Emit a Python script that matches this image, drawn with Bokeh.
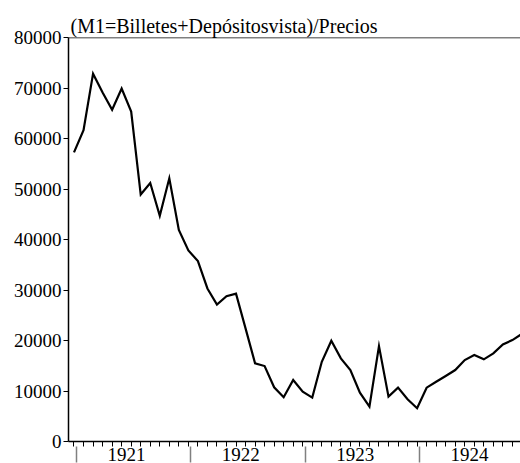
from bokeh.plotting import figure
from bokeh.models import (LinearAxis, FixedTicker, Range1d, Span, Title,
                          NumeralTickFormatter, CustomJSTickFormatter)
from bokeh.embed import file_html
from bokeh.resources import INLINE

# ---- data (monthly, Jan 1921 .. Dec 1924) ----
years = ["1921", "1922", "1923", "1924"]
month_index = list(range(48))
m1_real = [
    57250, 61670, 72840, 69090, 65680, 69880, 65340, 48900, 51200, 44690, 52110, 41900,
    37840, 35730, 30300, 27120, 28760, 29290, 22400, 15470, 14940, 10740, 8760, 12180,
    9870, 8690, 15790, 19940, 16460, 14150, 9670, 6910, 18890, 8880, 10660, 8370,
    6590, 10660, 11840, 12970, 14150, 16130, 17110, 16270, 17450, 19230, 20080, 21300,
]
y_ticks = [0, 10000, 20000, 30000, 40000, 50000, 60000, 70000, 80000]
title_text = "(M1=Billetes+Depósitosvista)/Precios"

FONT = "Liberation Serif"

p = figure(width=520, height=463, output_backend="svg", toolbar_location=None,
           x_range=Range1d(-0.577, 46.85), y_range=Range1d(0, 80000),
           x_axis_location=None, y_axis_location=None,
           min_border_left=68, min_border_right=0, min_border_top=37,
           min_border_bottom=0)
p.grid.visible = False
p.outline_line_color = None
p.background_fill_color = "white"
p.border_fill_color = "white"

p.title = Title(text=title_text, align="left", text_font=FONT,
                text_font_size="20px", text_font_style="normal",
                text_color="black", offset=2, standoff=2)

p.line(month_index, m1_real, line_color="black", line_width=2.2,
       line_join="miter")

# top line
p.add_layout(Span(location=80000, dimension="width", line_color="black",
                  line_width=1.5))

# y axis
ya = LinearAxis(ticker=FixedTicker(ticks=y_ticks),
                formatter=NumeralTickFormatter(format="0"),
                major_tick_in=0, major_tick_out=5, minor_tick_line_color=None,
                axis_line_width=1.5, axis_line_color="black",
                major_tick_line_color="black",
                major_label_text_font=FONT, major_label_text_font_size="19px",
                major_label_text_color="black", major_label_standoff=2)
p.add_layout(ya, "left")

# x axis: month ticks (minor ticks only, no labels)
xa = LinearAxis(ticker=FixedTicker(ticks=[], minor_ticks=month_index),
                major_tick_in=0, major_tick_out=0,
                minor_tick_in=0, minor_tick_out=5, minor_tick_line_color="black",
                minor_tick_line_width=1,
                axis_line_width=1.5, axis_line_color="black",
                major_label_standoff=0)
p.add_layout(xa, "below")

# x axis: year separators + year labels
sep_pos = [12 * i + 0.25 for i in range(len(years))]
lab_pos = [12 * i + 5.5 for i in range(len(years))]
yfmt = CustomJSTickFormatter(args=dict(labels=years),
                             code="return labels[Math.round((tick - 5.5) / 12)] || '';")
xb = LinearAxis(ticker=FixedTicker(ticks=lab_pos, minor_ticks=sep_pos),
                formatter=yfmt, axis_line_color=None,
                major_tick_line_color=None, major_tick_in=0, major_tick_out=0,
                minor_tick_in=0, minor_tick_out=16, minor_tick_line_color="#808080",
                minor_tick_line_width=1.5,
                major_label_text_font=FONT, major_label_text_font_size="19px",
                major_label_text_color="black", major_label_standoff=-15)
p.add_layout(xb, "below")

open("out.html", "w").write(file_html(p, INLINE))
